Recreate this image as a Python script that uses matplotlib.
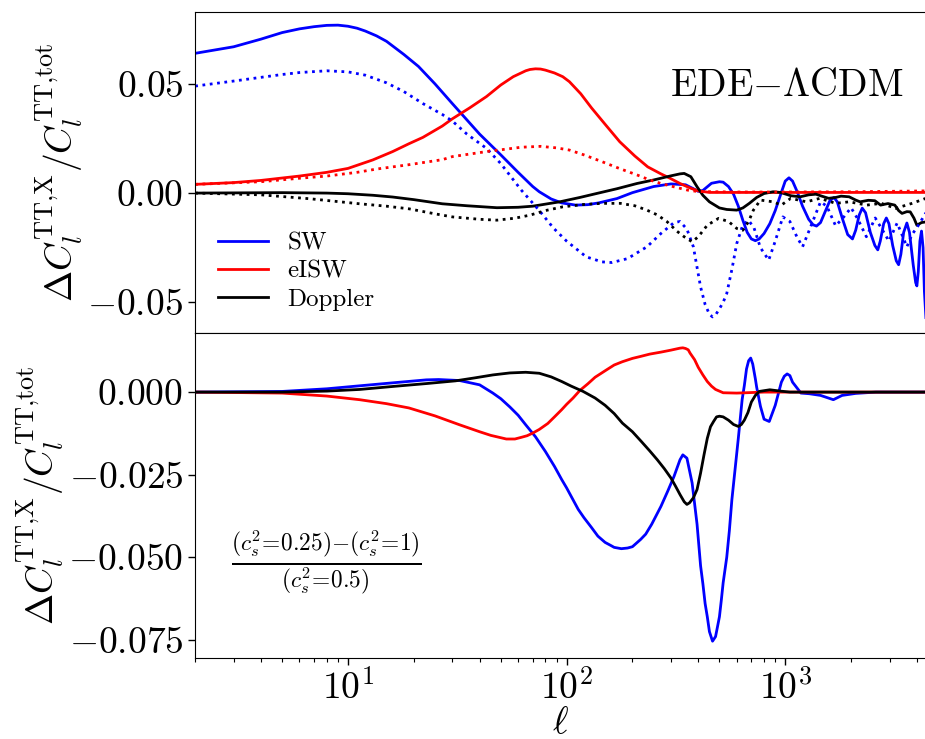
import matplotlib
matplotlib.use("Agg")
import matplotlib.pyplot as plt
from matplotlib.ticker import FixedLocator, LogLocator, NullFormatter

plt.rcParams['font.family'] = 'serif'
plt.rcParams['font.serif'] = ['cmr10']
plt.rcParams['mathtext.fontset'] = 'cm'
plt.rcParams['axes.formatter.use_mathtext'] = True

# --- EDE - LCDM, solid: c_s^2 = 1 run, dotted: c_s^2 = 0.25 run ---
ell_sw_a = [2, 3, 4, 5, 6, 7, 8, 9, 10, 11, 12, 13.5, 15, 18, 21, 25, 30, 35, 40, 50, 60,
            70, 75, 85, 95, 110, 125, 140, 170, 200, 250, 300, 350, 380, 400, 420, 460,
            500, 520, 550, 580, 610, 640, 670, 700, 730, 760, 800, 850, 900, 950, 1000,
            1040, 1080, 1130, 1200, 1280, 1340, 1390, 1450, 1530, 1600, 1670, 1730, 1830,
            1930, 2030, 2100, 2180, 2250, 2330, 2450, 2570, 2650, 2720, 2820, 2900, 2980,
            3100, 3220, 3300, 3380, 3480, 3600, 3700, 3850, 3950, 4000, 4060, 4130, 4200,
            4270, 4330, 4400]
sw_a = [0.064, 0.067, 0.0705, 0.0735, 0.0752, 0.0762, 0.0768, 0.0769, 0.0764, 0.0755,
        0.0742, 0.072, 0.0695, 0.0635, 0.058, 0.050, 0.041, 0.0335, 0.027, 0.0175, 0.0095,
        0.003, 0.0006, -0.0027, -0.0045, -0.0055, -0.0053, -0.0045, -0.0025, 0.0002,
        0.003, 0.0042, 0.0038, 0.002, 0.0008, 0.0012, 0.0045, 0.0052, 0.005, 0.003,
        -0.0005, -0.006, -0.0125, -0.018, -0.021, -0.0218, -0.021, -0.0185, -0.014,
        -0.008, -0.001, 0.0055, 0.007, 0.0055, 0.001, -0.006, -0.012, -0.0145, -0.0151,
        -0.0135, -0.008, -0.0035, -0.002, -0.004, -0.012, -0.019, -0.021, -0.017, -0.010,
        -0.0069, -0.009, -0.018, -0.024, -0.026, -0.022, -0.014, -0.0114, -0.014, -0.024,
        -0.031, -0.0328, -0.028, -0.018, -0.0137, -0.018, -0.033, -0.041, -0.0425,
        -0.036, -0.022, -0.0174, -0.025, -0.045, -0.057]

ell_sw_b = [2, 3, 4, 5, 6, 8, 10, 12, 15, 18, 22, 27, 30, 35, 43, 50, 62, 75, 87, 100,
            123, 145, 161, 190, 233, 270, 310, 330, 355, 380, 395, 410, 430, 450, 465,
            480, 500, 520, 540, 570, 600, 640, 680, 720, 770, 840, 900, 975, 1050, 1130,
            1200, 1300, 1450, 1550, 1700, 1850, 2000, 2150, 2350, 2580, 2750, 2980, 3250,
            3450, 3600, 3800, 4050, 4400]
sw_b = [0.049, 0.0513, 0.053, 0.0543, 0.0552, 0.056, 0.0555, 0.054, 0.0505, 0.0465,
        0.041, 0.036, 0.033, 0.027, 0.0205, 0.0135, 0.0014, -0.008, -0.016, -0.022,
        -0.0292, -0.0315, -0.0318, -0.030, -0.0246, -0.0185, -0.0135, -0.013, -0.0165,
        -0.0246, -0.034, -0.043, -0.051, -0.0555, -0.0567, -0.0558, -0.053, -0.050,
        -0.046, -0.035, -0.0231, -0.0145, -0.0125, -0.016, -0.025, -0.0307, -0.022,
        -0.0109, -0.013, -0.020, -0.0246, -0.016, -0.004, -0.006, -0.015, -0.011,
        -0.0067, -0.012, -0.020, -0.0114, -0.016, -0.022, -0.0137, -0.020, -0.0246,
        -0.019, -0.015, -0.009]

ell_eisw_a = [2, 3, 4, 6, 8, 10, 13, 16, 19, 22, 27, 30, 36, 43, 50, 57, 65, 68, 72, 76,
              80, 88, 96, 103, 116, 130, 150, 175, 205, 235, 270, 297, 330, 370, 400,
              450, 1000, 4400]
eisw_a = [0.004, 0.0048, 0.0058, 0.0078, 0.0095, 0.0113, 0.0152, 0.019, 0.0226, 0.0255,
          0.0307, 0.034, 0.039, 0.0442, 0.0495, 0.0533, 0.056, 0.0566, 0.0569, 0.0568,
          0.0563, 0.055, 0.0533, 0.051, 0.0455, 0.039, 0.0315, 0.0235, 0.017, 0.012,
          0.0088, 0.0068, 0.0044, 0.0022, 0.001, 0.0003, 0.0003, 0.0003]

ell_eisw_b = [2, 4, 6, 8, 11, 13.5, 19, 27, 30, 43, 62, 76, 90, 103, 120, 145, 175, 210,
              240, 270, 320, 360, 400, 600, 1000, 2000, 3000, 4400]
eisw_b = [0.004, 0.0052, 0.0068, 0.0078, 0.0095, 0.011, 0.013, 0.0153, 0.0167, 0.019,
          0.021, 0.0214, 0.0207, 0.0197, 0.0175, 0.0144, 0.0112, 0.0083, 0.006, 0.0044,
          0.0025, 0.0013, 0.0007, 0.0005, 0.0005, 0.0006, 0.0008, 0.001]

ell_dop_a = [2, 5, 8, 10, 13, 16, 20, 27, 35, 48, 60, 70, 93, 115, 137, 170, 210, 250,
             297, 330, 345, 370, 395, 420, 450, 500, 540, 600, 640, 685, 740, 800, 880,
             950, 1060, 1170, 1280, 1380, 1480, 1580, 1700, 1800, 1960, 2100, 2200, 2400,
             2570, 2730, 2950, 3170, 3300, 3420, 3600, 3730, 3880, 4000, 4200, 4400]
dop_a = [0.0, 0.0002, 0.0, -0.0003, -0.001, -0.0018, -0.003, -0.0049, -0.0058, -0.0067,
         -0.0065, -0.006, -0.004, -0.002, -0.0002, 0.002, 0.0044, 0.006, 0.0078, 0.0088,
         0.009, 0.0075, 0.0029, -0.001, -0.004, -0.0068, -0.0075, -0.0078, -0.0068,
         -0.0047, -0.002, -0.0002, 0.0006, 0.0003, -0.0012, -0.0017, -0.0008, -0.0005,
         -0.0015, -0.0024, -0.002, -0.0014, -0.0017, -0.0032, -0.004, -0.0033, -0.0035,
         -0.0055, -0.0048, -0.0055, -0.008, -0.0093, -0.0085, -0.0086, -0.0115, -0.0147,
         -0.0135, -0.0132]

ell_dop_b = [2, 4, 6.7, 11.3, 15, 19, 25, 30, 40, 48, 58, 68, 80, 96, 120, 145, 176, 205,
             233, 260, 288, 320, 345, 375, 400, 440, 495, 550, 600, 640, 680, 715, 770,
             880, 960, 1060, 1150, 1250, 1440, 1700, 1960, 2360, 2750, 3200, 3800, 4400]
dop_b = [0.0, -0.0008, -0.0026, -0.0049, -0.006, -0.0072, -0.0095, -0.0109, -0.012,
         -0.0124, -0.0115, -0.0101, -0.008, -0.0063, -0.0052, -0.0047, -0.0047, -0.0058,
         -0.0078, -0.010, -0.0131, -0.0175, -0.020, -0.0223, -0.020, -0.0147, -0.0116,
         -0.013, -0.0162, -0.017, -0.013, -0.0078, -0.0032, -0.004, -0.0055, -0.0024,
         -0.0032, -0.004, -0.0024, -0.0047, -0.004, -0.0055, -0.0047, -0.007, -0.0047,
         -0.0024]

# --- (c_s^2=0.25 - c_s^2=1) / (c_s^2=0.5) ---
ell_sw_d = [2, 5, 8, 11.3, 16, 22.8, 26, 32.4, 40, 46, 50, 55, 60, 65, 72, 80, 88, 95,
            100, 107, 113, 120, 130, 139, 150, 160, 165, 178, 190, 200, 218, 230, 245,
            270, 290, 310, 330, 340, 355, 375, 395, 410, 420, 430, 440, 450, 465, 480,
            490, 500, 510, 520, 540, 555, 570, 610, 635, 650, 665, 680, 695, 710, 730,
            740, 770, 800, 845, 900, 960, 990, 1020, 1050, 1080, 1180, 1290, 1450, 1660,
            1820, 2100, 2600, 4400]
sw_d = [0.0, 0.0002, 0.001, 0.0019, 0.0028, 0.0037, 0.0038, 0.0035, 0.0022, -0.0003,
        -0.002, -0.0045, -0.007, -0.0099, -0.0135, -0.018, -0.0225, -0.0265, -0.029,
        -0.0326, -0.0355, -0.038, -0.041, -0.0436, -0.0455, -0.0465, -0.047, -0.0474,
        -0.0472, -0.0468, -0.0446, -0.043, -0.040, -0.0346, -0.030, -0.0255, -0.0205,
        -0.019, -0.020, -0.0275, -0.040, -0.0526, -0.058, -0.064, -0.068, -0.0725,
        -0.0754, -0.074, -0.071, -0.068, -0.063, -0.0577, -0.050, -0.042, -0.0326,
        -0.014, -0.0023, 0.002, 0.007, 0.0095, 0.0103, 0.0085, 0.004, 0.0015, -0.0043,
        -0.0082, -0.0089, -0.004, 0.003, 0.0048, 0.0055, 0.005, 0.003, -0.0003, -0.0005,
        -0.001, -0.0023, -0.001, -0.0004, 0.0, 0.0]

ell_eisw_d = [2, 5, 8, 11.3, 15, 19, 25, 32.4, 40, 45, 53, 58, 62, 66, 70, 75, 82, 88, 95,
              100, 107, 115, 125, 135, 152, 165, 180, 200, 218, 240, 270, 300, 330, 340,
              350, 360, 367, 385, 400, 420, 440, 460, 480, 520, 600, 800, 4400]
eisw_d = [0.0, -0.0003, -0.0012, -0.0023, -0.0035, -0.0048, -0.0072, -0.0099, -0.012,
          -0.0131, -0.0142, -0.0142, -0.0137, -0.0132, -0.0124, -0.0113, -0.0095,
          -0.0075, -0.0053, -0.0037, -0.0018, 0.0005, 0.0025, 0.0045, 0.0067, 0.0082,
          0.0092, 0.0102, 0.0108, 0.0115, 0.0121, 0.0127, 0.0133, 0.0134, 0.0132, 0.0128,
          0.0118, 0.0098, 0.0075, 0.0052, 0.0032, 0.0018, 0.0008, -0.0002, -0.0003, 0.0,
          0.0]

ell_dop_d = [2, 5, 8, 11.3, 16, 23, 31, 38, 46, 55, 65, 75, 85, 95, 105, 119, 135, 150,
             165, 180, 200, 220, 240, 260, 280, 300, 315, 330, 345, 355, 365, 380, 395,
             410, 425, 440, 455, 470, 485, 500, 520, 550, 580, 610, 630, 650, 675, 700,
             730, 760, 850, 950, 1050, 4400]
dop_d = [0.0, 0.0, 0.0003, 0.0008, 0.0017, 0.0026, 0.0034, 0.0043, 0.0052, 0.0058, 0.006,
         0.0057, 0.0046, 0.0032, 0.0018, 0.0002, -0.0018, -0.004, -0.0065, -0.0094,
         -0.012, -0.015, -0.0178, -0.0205, -0.0232, -0.026, -0.0285, -0.031, -0.0332,
         -0.034, -0.0335, -0.032, -0.0295, -0.0245, -0.019, -0.014, -0.0105, -0.0089,
         -0.0075, -0.0073, -0.0075, -0.0085, -0.0098, -0.0104, -0.0098, -0.0085, -0.0062,
         -0.003, -0.001, 0.0002, 0.0007, 0.0003, 0.0, 0.0]

labels = ['SW', 'eISW', 'Doppler']
colors = ['blue', 'red', 'black']

fig = plt.figure(figsize=(9.25, 7.39), dpi=100)
ax1 = fig.add_axes([0.211, 0.549, 0.790, 0.435])
ax2 = fig.add_axes([0.211, 0.110, 0.790, 0.439], sharex=ax1)

lw = 2.0
top_solid = [(ell_sw_a, sw_a), (ell_eisw_a, eisw_a), (ell_dop_a, dop_a)]
top_dotted = [(ell_sw_b, sw_b), (ell_eisw_b, eisw_b), (ell_dop_b, dop_b)]
for (x, y), c, lab in zip(top_solid, colors, labels):
    ax1.plot(x, y, color=c, lw=lw, label=lab)
for (x, y), c in zip(top_dotted, colors):
    ax1.plot(x, y, color=c, lw=lw, ls=':')

bottom = [(ell_sw_d, sw_d), (ell_eisw_d, eisw_d), (ell_dop_d, dop_d)]
for (x, y), c in zip(bottom, colors):
    ax2.plot(x, y, color=c, lw=lw)

ax1.set_xscale('log')
ax1.set_xlim(2, 4400)
ax1.set_ylim(-0.0642, 0.083)
ax2.set_ylim(-0.0804, 0.0178)
ax1.yaxis.set_major_locator(FixedLocator([-0.05, 0.0, 0.05]))
ax2.yaxis.set_major_locator(FixedLocator([-0.075, -0.05, -0.025, 0.0]))
ax2.xaxis.set_major_locator(LogLocator(base=10))
ax2.xaxis.set_minor_locator(LogLocator(base=10, subs=range(2, 10)))
ax2.xaxis.set_minor_formatter(NullFormatter())

ax1.tick_params(axis='x', which='both', bottom=False, labelbottom=False)
for ax in (ax1, ax2):
    ax.tick_params(axis='y', labelsize=27, length=5, width=1)
    ax.spines['right'].set_visible(False)
ax2.tick_params(axis='x', which='major', labelsize=27, length=5, width=1)
ax2.tick_params(axis='x', which='minor', length=3, width=0.8)

ylab = r'$\Delta C_l^{\rm TT{,}X}/C_l^{\rm TT{,}tot}$'
ax1.set_ylabel(ylab, fontsize=27, labelpad=2)
ax2.set_ylabel(ylab, fontsize=27, labelpad=2)
ax2.set_xlabel(r'$\ell$', fontsize=27, labelpad=0)

ax1.text(0.97, 0.77, r'EDE$-\Lambda$CDM', transform=ax1.transAxes,
         ha='right', va='center', fontsize=28)
ax2.text(0.18, 0.29, r'$\frac{(c_s^2\!=\!0.25){-}(c_s^2\!=\!1)}{(c_s^2\!=\!0.5)}$',
         transform=ax2.transAxes, ha='center', va='center', fontsize=24)

ax1.legend(loc='lower left', bbox_to_anchor=(0.0, 0.0), frameon=False,
           fontsize=18, handlelength=2.0, labelspacing=0.22)

fig.savefig('out.png', dpi=100)
